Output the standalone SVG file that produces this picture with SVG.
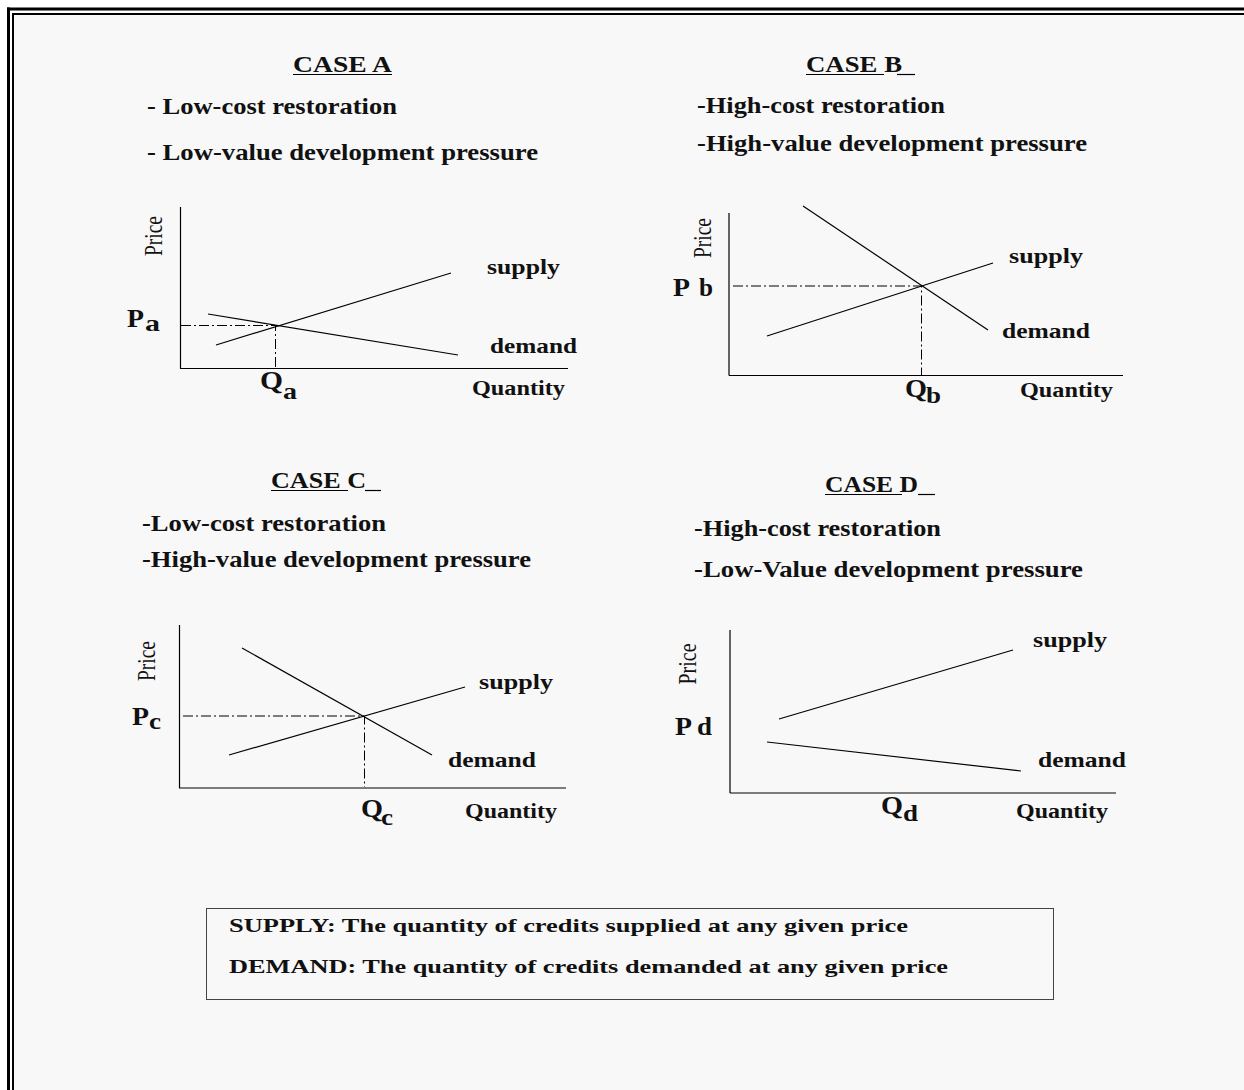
<svg xmlns="http://www.w3.org/2000/svg" width="1244" height="1090" viewBox="0 0 1244 1090">
<style>
text{font-family:"Liberation Serif","Times New Roman",serif;fill:#111}
.h{font-size:23px;font-weight:bold}
.l{font-size:22px;font-weight:bold}
.q{font-size:20px;font-weight:bold}
.pq{font-size:26px;font-weight:bold}
.sb{font-size:24px;font-weight:bold}
.pr{font-size:26px}
.lg{font-size:19px;font-weight:bold}
.ax,.cv,.ul{stroke:#000;stroke-width:1.2;fill:none}
.dd{stroke:#000;stroke-width:1;stroke-dasharray:10 3 2 3;fill:none}
.border{stroke:#000;fill:none}
</style>
<rect x="0" y="0" width="1244" height="1090" fill="#ffffff"/>
<rect x="14" y="14.5" width="1230" height="1076" fill="#f8f8f8"/>
<g id="frame">
<line class="border" x1="7" y1="9" x2="1244" y2="9" stroke-width="3"/>
<line class="border" x1="8.5" y1="7.5" x2="8.5" y2="1090" stroke-width="3"/>
<line class="border" x1="12" y1="14" x2="1244" y2="14" stroke-width="2"/>
<line class="border" x1="13" y1="13" x2="13" y2="1090" stroke-width="2"/>
</g>

<g id="caseA">
<text class="h" x="293" y="72" textLength="99" lengthAdjust="spacingAndGlyphs">CASE A</text>
<line class="ul" x1="293" y1="74.5" x2="392" y2="74.5"/>
<text class="h" x="147" y="114" textLength="250" lengthAdjust="spacingAndGlyphs">- Low-cost restoration</text>
<text class="h" x="147" y="160" textLength="391" lengthAdjust="spacingAndGlyphs">- Low-value development pressure</text>
<line class="ax" x1="180.5" y1="207" x2="180.5" y2="368.5"/>
<line class="ax" x1="180" y1="368.5" x2="568" y2="368.5"/>
<line class="cv" x1="216" y1="345" x2="451" y2="273"/>
<line class="cv" x1="208" y1="314" x2="458" y2="355"/>
<path class="dd" d="M181 325.5H275.5V368"/>
<text class="pr" transform="translate(162,236) rotate(-90)" text-anchor="middle" textLength="40" lengthAdjust="spacingAndGlyphs">Price</text>
<text class="pq" x="127" y="327" textLength="17" lengthAdjust="spacingAndGlyphs">P</text>
<text class="sb" x="145" y="331" textLength="15" lengthAdjust="spacingAndGlyphs">a</text>
<text class="pq" x="260" y="389" textLength="23" lengthAdjust="spacingAndGlyphs">Q</text>
<text class="sb" x="283" y="399" textLength="14" lengthAdjust="spacingAndGlyphs">a</text>
<text class="l" x="487" y="274" textLength="73" lengthAdjust="spacingAndGlyphs">supply</text>
<text class="l" x="490" y="353" textLength="87" lengthAdjust="spacingAndGlyphs">demand</text>
<text class="q" x="472" y="395" textLength="93" lengthAdjust="spacingAndGlyphs">Quantity</text>
</g>

<g id="caseB">
<text class="h" x="806" y="72" textLength="96" lengthAdjust="spacingAndGlyphs">CASE B</text>
<line class="ul" x1="806" y1="74.5" x2="884" y2="74.5"/>
<line class="ul" x1="897" y1="74.5" x2="915" y2="74.5"/>
<text class="h" x="697" y="113" textLength="248" lengthAdjust="spacingAndGlyphs">-High-cost restoration</text>
<text class="h" x="697" y="151" textLength="390" lengthAdjust="spacingAndGlyphs">-High-value development pressure</text>
<line class="ax" x1="729" y1="213" x2="729" y2="375.5"/>
<line class="ax" x1="729" y1="375.5" x2="1123" y2="375.5"/>
<line class="cv" x1="803" y1="206" x2="988" y2="330"/>
<line class="cv" x1="767" y1="336" x2="993" y2="263"/>
<path class="dd" d="M733 286H921.5V375"/>
<text class="pr" transform="translate(711,238) rotate(-90)" text-anchor="middle" textLength="40" lengthAdjust="spacingAndGlyphs">Price</text>
<text class="pq" x="673" y="296" textLength="17" lengthAdjust="spacingAndGlyphs">P</text>
<text class="pq" x="699" y="296" textLength="14" lengthAdjust="spacingAndGlyphs">b</text>
<text class="pq" x="905" y="397" textLength="22" lengthAdjust="spacingAndGlyphs">Q</text>
<text class="sb" x="926" y="403" textLength="15" lengthAdjust="spacingAndGlyphs">b</text>
<text class="l" x="1009" y="263" textLength="74" lengthAdjust="spacingAndGlyphs">supply</text>
<text class="l" x="1002" y="338" textLength="88" lengthAdjust="spacingAndGlyphs">demand</text>
<text class="q" x="1020" y="397" textLength="93" lengthAdjust="spacingAndGlyphs">Quantity</text>
</g>

<g id="caseC">
<text class="h" x="271" y="488" textLength="95" lengthAdjust="spacingAndGlyphs">CASE C</text>
<line class="ul" x1="271" y1="490.5" x2="348" y2="490.5"/>
<line class="ul" x1="365" y1="490.5" x2="381" y2="490.5"/>
<text class="h" x="142" y="531" textLength="244" lengthAdjust="spacingAndGlyphs">-Low-cost restoration</text>
<text class="h" x="142" y="567" textLength="389" lengthAdjust="spacingAndGlyphs">-High-value development pressure</text>
<line class="ax" x1="179.5" y1="625" x2="179.5" y2="788"/>
<line class="ax" x1="179" y1="788" x2="566" y2="788"/>
<line class="cv" x1="242" y1="648" x2="432" y2="755"/>
<line class="cv" x1="229" y1="755" x2="465" y2="687"/>
<path class="dd" d="M183 716H364.5V787"/>
<text class="pr" transform="translate(155,661) rotate(-90)" text-anchor="middle" textLength="40" lengthAdjust="spacingAndGlyphs">Price</text>
<text class="pq" x="132" y="725" textLength="17" lengthAdjust="spacingAndGlyphs">P</text>
<text class="sb" x="149" y="729" textLength="12" lengthAdjust="spacingAndGlyphs">c</text>
<text class="pq" x="361" y="817" textLength="22" lengthAdjust="spacingAndGlyphs">Q</text>
<text class="sb" x="381" y="825" textLength="12" lengthAdjust="spacingAndGlyphs">c</text>
<text class="l" x="479" y="689" textLength="74" lengthAdjust="spacingAndGlyphs">supply</text>
<text class="l" x="448" y="767" textLength="88" lengthAdjust="spacingAndGlyphs">demand</text>
<text class="q" x="465" y="818" textLength="92" lengthAdjust="spacingAndGlyphs">Quantity</text>
</g>

<g id="caseD">
<text class="h" x="825" y="492" textLength="93" lengthAdjust="spacingAndGlyphs">CASE D</text>
<line class="ul" x1="825" y1="494.5" x2="902" y2="494.5"/>
<line class="ul" x1="918" y1="494.5" x2="935" y2="494.5"/>
<text class="h" x="694" y="536" textLength="247" lengthAdjust="spacingAndGlyphs">-High-cost restoration</text>
<text class="h" x="694" y="577" textLength="389" lengthAdjust="spacingAndGlyphs">-Low-Value development pressure</text>
<line class="ax" x1="730" y1="630" x2="730" y2="793"/>
<line class="ax" x1="730" y1="793" x2="1116" y2="793"/>
<line class="cv" x1="779" y1="719" x2="1013" y2="650"/>
<line class="cv" x1="767" y1="742" x2="1021" y2="771"/>
<text class="pr" transform="translate(696,664) rotate(-90)" text-anchor="middle" textLength="41" lengthAdjust="spacingAndGlyphs">Price</text>
<text class="pq" x="675" y="735" textLength="17" lengthAdjust="spacingAndGlyphs">P</text>
<text class="pq" x="697" y="735" textLength="15" lengthAdjust="spacingAndGlyphs">d</text>
<text class="pq" x="881" y="814" textLength="22" lengthAdjust="spacingAndGlyphs">Q</text>
<text class="sb" x="903" y="821" textLength="15" lengthAdjust="spacingAndGlyphs">d</text>
<text class="l" x="1033" y="647" textLength="74" lengthAdjust="spacingAndGlyphs">supply</text>
<text class="l" x="1038" y="767" textLength="88" lengthAdjust="spacingAndGlyphs">demand</text>
<text class="q" x="1016" y="818" textLength="92" lengthAdjust="spacingAndGlyphs">Quantity</text>
</g>

<g id="legend">
<rect x="206.5" y="908.5" width="847" height="91" fill="none" stroke="#444" stroke-width="1"/>
<text class="lg" x="229" y="932" textLength="679" lengthAdjust="spacingAndGlyphs">SUPPLY:  The quantity of credits supplied at any given price</text>
<text class="lg" x="229" y="973" textLength="719" lengthAdjust="spacingAndGlyphs">DEMAND:  The quantity of credits demanded at any given price</text>
</g>
</svg>
